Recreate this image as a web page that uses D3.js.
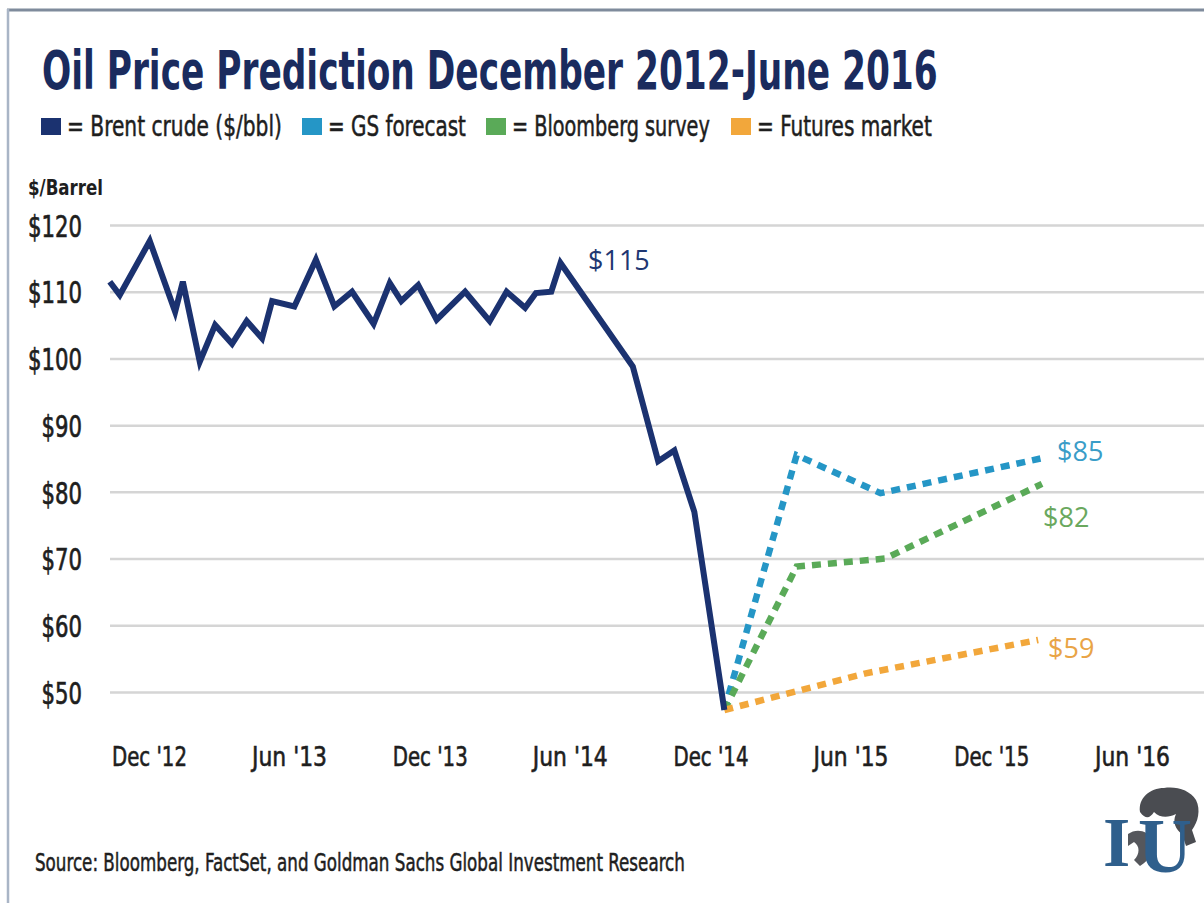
<!DOCTYPE html>
<html>
<head>
<meta charset="utf-8">
<script src="https://cdn.jsdelivr.net/npm/d3@7"></script>
<style>
  html, body { margin: 0; padding: 0; background: #ffffff; }
  svg { display: block; }
  .narrow { font-family: "Liberation Sans Narrow", "DejaVu Sans Condensed", "Arial Narrow", sans-serif; font-stretch: condensed; }
</style>
</head>
<body>
<svg id="chart" width="1204" height="903"></svg>
<script>
// ---------- data ----------
const brentDates = ["2012-10-11","2012-10-24","2012-12-02","2013-01-04","2013-01-14","2013-02-05","2013-02-25","2013-03-19","2013-04-07","2013-04-27","2013-05-10","2013-06-08","2013-07-06","2013-07-30","2013-08-22","2013-09-19","2013-10-10","2013-10-25","2013-11-16","2013-12-10","2014-01-16","2014-02-17","2014-03-11","2014-04-04","2014-04-18","2014-05-08","2014-05-20","2014-08-22","2014-09-24","2014-10-15","2014-11-10","2014-12-19"];
const brentValues = [111.5,109.5,117.6,107.0,111.5,99.5,105.0,102.2,105.6,103.0,108.6,107.8,114.8,107.8,110.0,105.2,111.3,108.6,111.0,105.8,110.0,105.6,110.0,107.6,109.8,110.0,114.3,98.8,84.6,86.2,77.0,47.3];

const gsDates = ["2014-12-19","2015-03-23","2015-07-10","2016-02-03"];
const gsValues = [47.3,85.5,79.8,85.0];

const bloombergDates = ["2014-12-19","2015-03-23","2015-07-16","2016-02-05"];
const bloombergValues = [47.3,68.8,70.0,81.2];

const futuresDates = ["2014-12-19","2015-06-21","2016-01-31"];
const futuresValues = [47.3,52.8,57.8];

const yTicks = [50,60,70,80,90,100,110,120];
const xTickDates = ["2012-12-01","2013-06-01","2013-12-01","2014-06-01","2014-12-01","2015-06-01","2015-12-01","2016-06-01"];
const xTickLabels = ["Dec '12","Jun '13","Dec '13","Jun '14","Dec '14","Jun '15","Dec '15","Jun '16"];

const legendItems = ["= Brent crude ($/bbl)","= GS forecast","= Bloomberg survey","= Futures market"];
const endLabels = ["$115","$85","$82","$59"];

// ---------- styles ----------
const C = {
  navy: "#1b3270", blue: "#2596c6", green: "#5aaa58", orange: "#f2a73b",
  title: "#1a2b5e", text: "#1e1e1e", grid: "#d5d5d5"
};

const svg = d3.select("#chart");
const parse = d3.timeParse("%Y-%m-%d");

// squeeze a text horizontally to a target width, anchored at ax
function fit(sel, width, ax) {
  sel.each(function () {
    const w = this.getComputedTextLength();
    if (w > 0) {
      const s = width / w;
      d3.select(this).attr("transform", `translate(${ax},0) scale(${s},1) translate(${-ax},0)`);
    }
  });
}
// slightly heavier weight for condensed labels
function heavy(sel, w) {
  sel.attr("stroke", C.text).attr("stroke-width", w).attr("paint-order", "stroke");
}

const x = d3.scaleTime()
  .domain([parse("2012-12-01"), parse("2016-06-01")])
  .range([149, 1132]);
const y = d3.scaleLinear().domain([50, 120]).range([692, 225]);

// frame
svg.append("line").attr("x1", 7).attr("x2", 1204).attr("y1", 10).attr("y2", 10)
  .attr("stroke", "#7f8b9c").attr("stroke-width", 3);
svg.append("line").attr("x1", 8).attr("x2", 8).attr("y1", 9).attr("y2", 903)
  .attr("stroke", "#a9b5c6").attr("stroke-width", 2.5);

// title
svg.append("text").attr("class", "narrow")
  .attr("x", 42).attr("y", 89)
  .attr("font-size", 54).attr("font-weight", "bold")
  .attr("fill", C.title)
  .text("Oil Price Prediction December 2012-June 2016")
  .call(fit, 896, 42);

// legend
const legendColors = [C.navy, C.blue, C.green, C.orange];
const legendSqX = [41, 302, 486, 731];
const legendTxtX = [67, 328, 512, 757];
const legendTxtEnd = [282, 466, 710, 932];
legendItems.forEach((t, i) => {
  svg.append("rect").attr("x", legendSqX[i]).attr("y", 118)
    .attr("width", 20).attr("height", 17).attr("fill", legendColors[i]);
  svg.append("text").attr("class", "narrow")
    .attr("x", legendTxtX[i]).attr("y", 136)
    .attr("font-size", 28).attr("fill", C.text)
    .text(t)
    .call(heavy, 0.5)
    .call(fit, legendTxtEnd[i] - legendTxtX[i], legendTxtX[i]);
});

// y unit label
svg.append("text").attr("class", "narrow")
  .attr("x", 28).attr("y", 195)
  .attr("font-size", 21).attr("font-weight", "bold").attr("fill", C.text)
  .text("$/Barrel")
  .call(fit, 75, 28);

// y axis + grid
const yAxis = svg.append("g").attr("transform", "translate(110,0)")
  .call(d3.axisLeft(y).tickValues(yTicks).tickFormat(d => "$" + d)
    .tickSize(-1100).tickPadding(28));
yAxis.select(".domain").remove();
yAxis.selectAll(".tick line").attr("stroke", C.grid).attr("stroke-width", 2.5);
yAxis.selectAll(".tick text").attr("class", "narrow")
  .attr("font-size", 31).attr("fill", C.text).attr("dy", "0.36em")
  .call(heavy, 0.7)
  .each(function (d) {
    const n = ("$" + d).length;
    d3.select(this).call(fit, n * 13.5, -28);
  });

// x axis
const xAxis = svg.append("g").attr("transform", "translate(0,747)")
  .call(d3.axisBottom(x).tickValues(xTickDates.map(parse))
    .tickFormat((d, i) => xTickLabels[i]).tickSize(0).tickPadding(0));
xAxis.select(".domain").remove();
xAxis.selectAll(".tick text").attr("class", "narrow")
  .attr("font-size", 27).attr("fill", C.text).attr("dy", "0.7em")
  .call(heavy, 0.6)
  .call(fit, 75, 0);

// lines
const lineGen = d3.line().x(d => x(d.date)).y(d => y(d.value));
const series = (dates, vals) => dates.map((d, i) => ({ date: parse(d), value: vals[i] }));

svg.append("path").datum(series(gsDates, gsValues))
  .attr("d", lineGen).attr("fill", "none").attr("stroke", C.blue)
  .attr("stroke-width", 6.5).attr("stroke-dasharray", "9,7");
svg.append("path").datum(series(bloombergDates, bloombergValues))
  .attr("d", lineGen).attr("fill", "none").attr("stroke", C.green)
  .attr("stroke-width", 6.5).attr("stroke-dasharray", "9,7");
svg.append("path").datum(series(futuresDates, futuresValues))
  .attr("d", lineGen).attr("fill", "none").attr("stroke", C.orange)
  .attr("stroke-width", 6.5).attr("stroke-dasharray", "9,7");
svg.append("path").datum(series(brentDates, brentValues))
  .attr("d", lineGen).attr("fill", "none").attr("stroke", C.navy)
  .attr("stroke-width", 6).attr("stroke-linejoin", "miter");

// end labels
const labelFont = '"Open Sans", "Noto Sans", sans-serif';
const labelPos = [
  { x: 588, y: 270, c: "#1f3772" },
  { x: 1057, y: 461, c: "#3a9dc8" },
  { x: 1043, y: 527, c: "#6aa85e" },
  { x: 1048, y: 658, c: "#e9a446" }
];
endLabels.forEach((t, i) => {
  svg.append("text").attr("x", labelPos[i].x).attr("y", labelPos[i].y)
    .attr("font-family", labelFont).attr("font-size", 27)
    .attr("fill", labelPos[i].c).text(t);
});

// source
svg.append("text").attr("class", "narrow")
  .attr("x", 35).attr("y", 871)
  .attr("font-size", 24).attr("fill", C.text)
  .text("Source: Bloomberg, FactSet, and Goldman Sachs Global Investment Research")
  .call(heavy, 0.5)
  .call(fit, 650, 35);

// logo
const logo = svg.append("g");
logo.append("path")
  .attr("d", "M1140,812 C1138,798 1150,788 1164,788 C1176,786 1190,790 1196,800 C1201,810 1198,822 1192,830 L1196,842 L1186,846 L1182,834 C1176,830 1172,822 1176,814 C1168,818 1160,818 1154,812 C1150,818 1146,820 1140,812 Z")
  .attr("fill", "#4a4c51");
logo.append("path")
  .attr("d", "M1128,834 C1136,828 1148,830 1152,840 C1156,850 1150,860 1140,866 L1134,860 C1140,854 1140,846 1134,842 L1128,846 Z")
  .attr("fill", "#55575c");
logo.append("text").attr("x", 1103).attr("y", 866)
  .attr("font-family", '"Liberation Serif", "DejaVu Serif", serif').attr("font-weight", "bold")
  .attr("font-size", 70).attr("fill", "#2f5f8c").text("I");
logo.append("text").attr("x", 1138).attr("y", 872)
  .attr("font-family", '"Liberation Serif", "DejaVu Serif", serif').attr("font-weight", "bold")
  .attr("font-size", 78).attr("fill", "#2f5f8c").text("U")
  .call(fit, 54, 1138);
</script>
</body>
</html>
